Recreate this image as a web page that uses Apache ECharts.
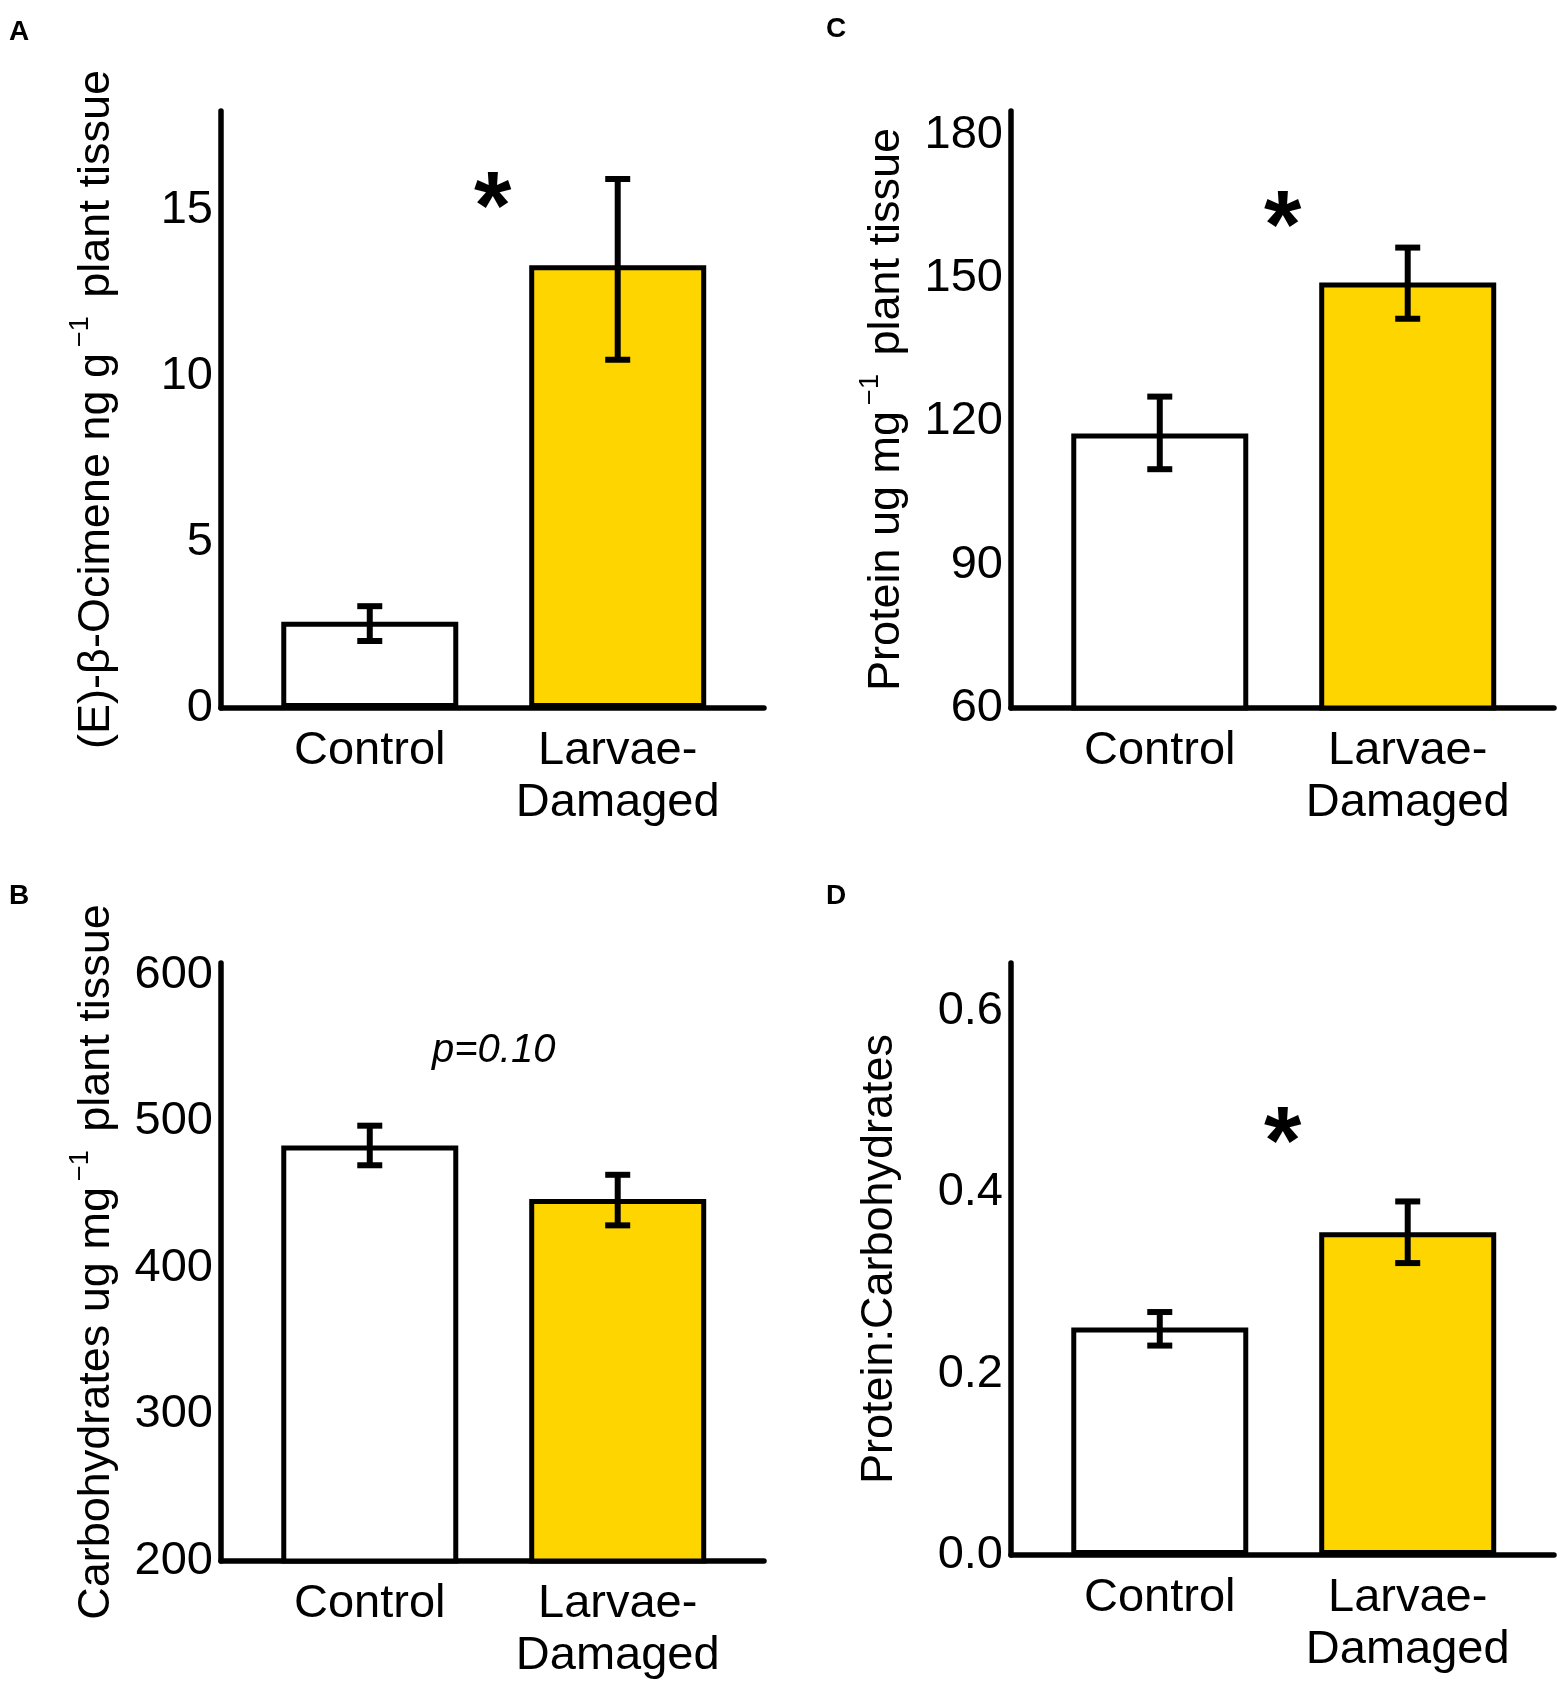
<!DOCTYPE html>
<html>
<head>
<meta charset="utf-8">
<script src="https://cdn.jsdelivr.net/npm/echarts@6/dist/echarts.min.js"></script>
<style>
  html, body { margin: 0; padding: 0; background: #fff; }
  #chart { width: 1562px; height: 1683px; }
</style>
</head>
<body>
<div id="chart"></div>
<script>
// categories and bar colours
const categories = ['Control', 'Larvae-\nDamaged'];
const fills = ['#ffffff', '#ffd500'];

// A: (E)-beta-Ocimene
const ocimeneMean = [2.6, 13.35];
const ocimeneLow = [2.02, 10.5];
const ocimeneHigh = [3.07, 15.95];
// B: carbohydrates
const carbMean = [483.5, 447];
const carbLow = [470, 429];
const carbHigh = [497, 463.5];
// C: protein
const protMean = [117.5, 149.1];
const protLow = [110, 141.5];
const protHigh = [125.2, 156.4];
// D: protein:carbohydrates
const ratioMean = [0.251, 0.356];
const ratioLow = [0.231, 0.322];
const ratioHigh = [0.268, 0.39];

// axis ranges
const yAxisA = { min: 0, max: 18, interval: 5 };
const yAxisB = { min: 200, max: 608, interval: 100 };
const yAxisC = { min: 60, max: 185, interval: 30 };
const yAxisD = { min: 0, max: 0.653, interval: 0.2 };

// significance marks [x, y, text]
const noteA = [1.5, 15.6, '*'];
const noteB = [1.5, 548, 'p=0.10'];
const noteC = [1.5, 164.4, '*'];
const noteD = [1.5, 0.474, '*'];

const titles = [
  ['(E)-β-Ocimene ng g', '−1', ' plant tissue'],
  ['Carbohydrates ug mg', '−1', ' plant tissue'],
  ['Protein ug mg', '−1', ' plant tissue'],
  ['Protein:Carbohydrates', '', '']
];

const FONT = 'Liberation Sans, Arial, sans-serif';

const chart = echarts.init(document.getElementById('chart'));

const grids = [
  { left: 221, top: 111, width: 543, height: 597 },
  { left: 221, top: 963, width: 543, height: 598 },
  { left: 1011, top: 111, width: 543, height: 597 },
  { left: 1011, top: 963, width: 543, height: 592 }
];
const yRanges = [yAxisA, yAxisB, yAxisC, yAxisD];
const means = [ocimeneMean, carbMean, protMean, ratioMean];
const lows = [ocimeneLow, carbLow, protLow, ratioLow];
const highs = [ocimeneHigh, carbHigh, protHigh, ratioHigh];
const notes = [noteA, noteB, noteC, noteD];

function titleText(t) {
  let s = '{n|' + t[0] + '}';
  if (t[1]) s += '{s|' + t[1] + '}{n|' + t[2] + '}';
  return s;
}

const xAxes = grids.map((g, i) => ({
  type: 'value',
  gridIndex: i,
  min: 0.4,
  max: 2.59,
  axisLine: { show: true, lineStyle: { color: '#000', width: 5.5 } },
  axisTick: { show: false },
  splitLine: { show: false },
  axisLabel: {
    customValues: [1, 2],
    formatter: v => categories[Math.round(v) - 1],
    color: '#000',
    fontFamily: FONT,
    fontSize: 47,
    lineHeight: 52,
    margin: 17
  }
}));

const yAxes = grids.map((g, i) => ({
  type: 'value',
  gridIndex: i,
  min: yRanges[i].min,
  max: yRanges[i].max,
  interval: yRanges[i].interval,
  name: titleText(titles[i]),
  nameLocation: 'middle',
  nameGap: i === 3 ? 101 : 94,
  nameTextStyle: {
    color: '#000',
    fontFamily: FONT,
    rich: {
      n: { fontFamily: FONT, fontSize: 45, lineHeight: 60, color: '#000' },
      s: { fontFamily: FONT, fontSize: 27, lineHeight: 27, verticalAlign: 'top', color: '#000', padding: [0, 6, 0, 6] }
    }
  },
  axisLine: { show: true, lineStyle: { color: '#000', width: 5.5 } },
  axisTick: { show: false },
  splitLine: { show: false },
  axisLabel: {
    showMaxLabel: false,
    color: '#000',
    fontFamily: FONT,
    fontSize: 47,
    margin: 8,
    padding: [8, 0, 0, 0],
    formatter: v => (i === 3 ? v.toFixed(1) : String(v))
  }
}));

const series = [];
grids.forEach((g, i) => {
  series.push({
    type: 'bar',
    xAxisIndex: i,
    yAxisIndex: i,
    barWidth: 177,
    data: means[i].map((v, k) => ({
      value: [k + 1, v],
      itemStyle: { color: fills[k], borderColor: '#000', borderWidth: 5 }
    }))
  });
  series.push({
    type: 'custom',
    xAxisIndex: i,
    yAxisIndex: i,
    z: 5,
    data: means[i].map((v, k) => [k + 1, lows[i][k], highs[i][k]]),
    renderItem: (params, api) => {
      const lo = api.coord([api.value(0), api.value(1)]);
      const hi = api.coord([api.value(0), api.value(2)]);
      const cap = 12.5;
      const style = { stroke: '#000', lineWidth: 6 };
      return {
        type: 'group',
        children: [
          { type: 'line', shape: { x1: lo[0], y1: lo[1], x2: hi[0], y2: hi[1] }, style },
          { type: 'line', shape: { x1: lo[0] - cap, y1: lo[1], x2: lo[0] + cap, y2: lo[1] }, style },
          { type: 'line', shape: { x1: hi[0] - cap, y1: hi[1], x2: hi[0] + cap, y2: hi[1] }, style }
        ]
      };
    }
  });
  const n = notes[i];
  const star = n[2] === '*';
  series.push({
    type: 'scatter',
    xAxisIndex: i,
    yAxisIndex: i,
    symbolSize: 1,
    itemStyle: { color: 'rgba(0,0,0,0)', opacity: 1 },
    silent: true,
    data: [{ value: [n[0], n[1]], name: n[2] }],
    label: {
      show: true,
      position: 'inside',
      formatter: p => p.name,
      color: '#000',
      opacity: 1,
      fontFamily: FONT,
      fontSize: star ? 96 : 40,
      fontWeight: star ? 'bold' : 'normal',
      fontStyle: star ? 'normal' : 'italic',
      offset: star ? [-1, 21] : [0, 0]
    }
  });
});

const panelLabels = [['A', 9, 18], ['B', 9, 882], ['C', 826, 15], ['D', 826, 882]];

chart.setOption({
  backgroundColor: '#fff',
  animation: false,
  title: panelLabels.map(p => ({
    text: p[0],
    left: p[1],
    top: p[2],
    padding: 0,
    textStyle: { fontFamily: FONT, fontSize: 28, fontWeight: 'bold', color: '#000' }
  })),
  grid: grids,
  xAxis: xAxes,
  yAxis: yAxes,
  series
});
</script>
</body>
</html>
